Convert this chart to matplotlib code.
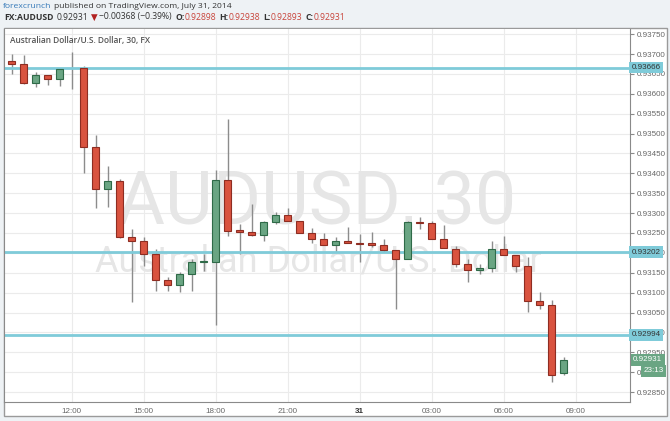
import numpy as np
import matplotlib
matplotlib.use('Agg')
import matplotlib.pyplot as plt
from matplotlib.patches import Rectangle

# AUDUSD 30 min candles, Jul 30 09:30 .. Jul 31 08:30
opens = [0.93682, 0.93674, 0.93626, 0.93647, 0.93637, 0.93664, 0.93664, 0.93467, 0.93360, 0.93380,
         0.93239, 0.93230, 0.93197, 0.93133, 0.93119, 0.93148, 0.93178, 0.93178, 0.93383, 0.93257,
         0.93252, 0.93245, 0.93277, 0.93296, 0.93279, 0.93250, 0.93235, 0.93219, 0.93229, 0.93226,
         0.93224, 0.93221, 0.93206, 0.93184, 0.93277, 0.93276, 0.93234, 0.93211, 0.93171, 0.93158,
         0.93161, 0.93210, 0.93194, 0.93166, 0.93079, 0.93068, 0.92898]
highs = [0.93700, 0.93697, 0.93655, 0.93647, 0.93662, 0.93706, 0.93670, 0.93496, 0.93418, 0.93387,
         0.93259, 0.93239, 0.93209, 0.93140, 0.93152, 0.93184, 0.93197, 0.93408, 0.93536, 0.93272,
         0.93324, 0.93281, 0.93304, 0.93312, 0.93279, 0.93262, 0.93249, 0.93240, 0.93266, 0.93247,
         0.93252, 0.93236, 0.93206, 0.93281, 0.93291, 0.93281, 0.93270, 0.93217, 0.93184, 0.93171,
         0.93230, 0.93242, 0.93194, 0.93189, 0.93101, 0.93081, 0.92938]
lows = [0.93651, 0.93624, 0.93616, 0.93623, 0.93620, 0.93611, 0.93401, 0.93312, 0.93316, 0.93237,
        0.93077, 0.93167, 0.93105, 0.93105, 0.93102, 0.93105, 0.93155, 0.93018, 0.93242, 0.93197,
        0.93242, 0.93230, 0.93272, 0.93279, 0.93250, 0.93225, 0.93219, 0.93203, 0.93225, 0.93178,
        0.93215, 0.93203, 0.93060, 0.93184, 0.93259, 0.93234, 0.93212, 0.93164, 0.93127, 0.93146,
        0.93152, 0.93194, 0.93152, 0.93052, 0.93058, 0.92875, 0.92893]
closes = [0.93674, 0.93626, 0.93647, 0.93637, 0.93662, 0.93664, 0.93467, 0.93360, 0.93380, 0.93239,
          0.93230, 0.93197, 0.93133, 0.93119, 0.93148, 0.93176, 0.93179, 0.93383, 0.93256, 0.93252,
          0.93245, 0.93277, 0.93296, 0.93279, 0.93250, 0.93236, 0.93219, 0.93229, 0.93225, 0.93223,
          0.93220, 0.93206, 0.93184, 0.93277, 0.93275, 0.93234, 0.93212, 0.93172, 0.93158, 0.93161,
          0.93210, 0.93194, 0.93166, 0.93080, 0.93068, 0.92894, 0.92931]

levels = [0.93666, 0.93202, 0.92994]
time_ticks = [5, 11, 17, 23, 29, 35, 41, 47]
time_labels = ['12:00', '15:00', '18:00', '21:00', '31', '03:00', '06:00', '09:00']
price_ticks = np.arange(0.9285, 0.93751, 0.0005)

RED, RED_EDGE = '#d9533f', '#8e2d22'
GREEN, GREEN_EDGE = '#6aa583', '#2f6a48'
CYAN = '#7fcbd9'

W, H = 670, 421
fig = plt.figure(figsize=(W / 100, H / 100), dpi=100, facecolor='#eef2f5')

# white chart panel
fig.add_artist(Rectangle((4 / W, 1 - 416 / H), 663 / W, 388 / H, transform=fig.transFigure,
                         facecolor='white', edgecolor='#9a9a9a', lw=1, zorder=0))

ax = fig.add_axes([4 / W, 1 - 402 / H, 626 / W, 373 / H])
ax.set_facecolor('white')
ax.set_xlim(-0.64, 51.53)
ax.set_ylim(0.92825, 0.93763)
for side in ['left', 'bottom', 'right']:
    ax.spines[side].set_color('#8a8a8a')
ax.spines['top'].set_visible(False)
ax.set_axisbelow(True)
ax.grid(color='#ebebeb', lw=0.8)

ax.yaxis.tick_right()
ax.set_yticks(price_ticks)
ax.set_yticklabels([f'{p:.5f}' for p in price_ticks], family='Liberation Sans')
ax.tick_params(axis='y', direction='out', length=3, color='#8a8a8a', labelsize=5.8,
               labelcolor='#666666', pad=2)
ax.set_xticks(time_ticks)
ax.set_xticklabels(time_labels, family='Liberation Sans')
ax.tick_params(axis='x', length=0, labelsize=5.8, labelcolor='#666666', pad=4)
ax.get_xticklabels()[4].set_fontweight('bold')
ax.get_xticklabels()[4].set_color('#333333')

# watermark
ax.text(317 / W, 1 - 224 / H, 'AUDUSD, 30', transform=fig.transFigure, ha='center',
        va='baseline', fontsize=53, family='Roboto', color='#e6e6e6', zorder=0.6)
ax.text(318 / W, 1 - 272 / H, 'Australian Dollar/U.S. Dollar', transform=fig.transFigure,
        ha='center', va='baseline', fontsize=26, family='Roboto', color='#e6e6e6', zorder=0.6)

# candles
for i, (o, h, l, c) in enumerate(zip(opens, highs, lows, closes)):
    ax.vlines(i, l, h, color='#8c8c8c', lw=1, zorder=2)
    if o == c:
        continue
    up = c > o
    ax.add_patch(Rectangle((i - 0.29, min(o, c)), 0.58, abs(c - o),
                           facecolor=GREEN if up else RED,
                           edgecolor=GREEN_EDGE if up else RED_EDGE, lw=0.8, zorder=3))

# horizontal levels with their price tags
for lv in levels:
    ax.axhline(lv, color=CYAN, lw=2, zorder=2.5)
    ax.text(1.003, lv, f'{lv:.5f}', transform=ax.get_yaxis_transform(), ha='left', va='center',
            fontsize=5.8, family='Liberation Sans', color='#333333', clip_on=False, zorder=10,
            bbox=dict(boxstyle='square,pad=0.3', fc=CYAN, ec='none'))

# last price tag and countdown
ax.text(1.005, closes[-1], f'{closes[-1]:.5f}', transform=ax.get_yaxis_transform(), ha='left',
        va='center', fontsize=5.8, family='Liberation Sans', color='white', clip_on=False,
        zorder=10, bbox=dict(boxstyle='square,pad=0.3', fc=GREEN, ec='none'))
ax.annotate('23:13', xy=((664 - 4) / 626, closes[-1]), xycoords=('axes fraction', 'data'),
            xytext=(0, -8), textcoords='offset points', ha='right', va='center',
            fontsize=5.8, family='Liberation Sans', color='white', annotation_clip=False,
            zorder=10, bbox=dict(boxstyle='square,pad=0.3', fc=GREEN, ec='none'))

# header
renderer = fig.canvas.get_renderer()


def write_run(x, y, pieces, size):
    for s, color, weight, gap in pieces:
        t = fig.text(x / W, 1 - y / H, s, color=color, fontsize=size, fontweight=weight,
                     family=['Open Sans', 'DejaVu Sans'], ha='left', va='center')
        x += t.get_window_extent(renderer).width + gap


DARK = '#333333'
PRED = '#c8443a'
write_run(3, 7, [('forexcrunch', '#3579b8', 'normal', 3),
                 ('published on TradingView.com, July 31, 2014', DARK, 'normal', 0)], 6.1)
write_run(4, 17, [('FX:AUDUSD', DARK, 'bold', 3), ('0.92931', DARK, 'normal', 3),
                  ('▼', '#b22222', 'normal', 1), ('\u22120.00368 (\u22120.39%)', DARK, 'normal', 4),
                  ('O:', DARK, 'bold', 0), ('0.92898', PRED, 'normal', 3),
                  ('H:', DARK, 'bold', 0), ('0.92938', PRED, 'normal', 3),
                  ('L:', DARK, 'bold', 0), ('0.92893', PRED, 'normal', 3),
                  ('C:', DARK, 'bold', 0), ('0.92931', PRED, 'normal', 0)], 6.2)

fig.text(10 / W, 1 - 41 / H, 'Australian Dollar/U.S. Dollar, 30, FX', color='#555555',
         fontsize=6.0, fontweight='semibold', family='Open Sans', ha='left', va='center')

fig.savefig('out.png', dpi=100, facecolor=fig.get_facecolor())
